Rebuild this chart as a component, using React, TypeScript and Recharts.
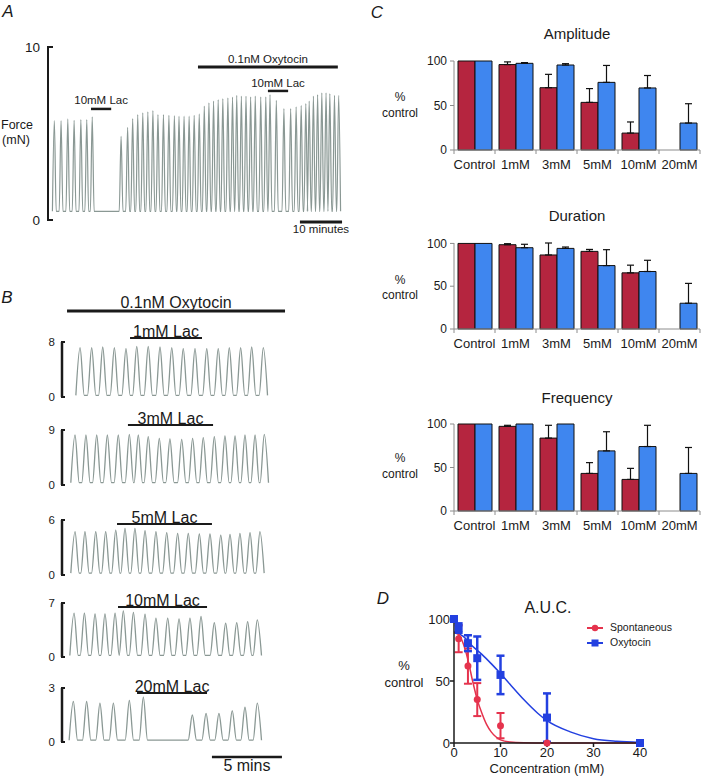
import React from "react";
import {
  LineChart,
  Line,
  XAxis,
  YAxis,
  ReferenceLine,
  BarChart,
  Bar,
  ErrorBar,
  ComposedChart,
  Scatter,
  Legend,
} from "recharts";

const FONT = "'Liberation Sans', Arial, Helvetica, sans-serif";
const INK = "#1a1a1a";
const TRACE = "#8a9894";
const AXIS_GREY = "#8c8c8c";
const RED_BAR = "#b5253f";
const BLUE_BAR = "#3f86ef";
const RED_LINE = "#e5334d";
const BLUE_LINE = "#2340e0";

// ---- A: force trace, time in minutes, force in mN ----
const aTimes = [
  1.0, 2.6, 4.2, 5.7, 7.3, 8.7, 10.0,
  16.85, 18.4, 19.6, 20.8, 22.0, 23.2, 24.4, 25.6, 26.9, 28.2, 29.5, 30.6, 31.8, 33.0, 34.2,
  35.4, 36.6, 37.7, 38.8, 39.9, 41.0, 42.2, 43.3, 44.3, 45.4, 46.5, 47.6, 48.7, 50.0, 51.2,
  52.2, 53.7, 55.5, 57.1, 58.4, 59.6, 60.7, 61.5, 62.5, 63.5, 64.5, 65.5, 66.4, 67.5, 68.5,
];
const aPeaks = [
  5.74, 5.74, 5.84, 5.76, 5.8, 5.8, 5.96,
  4.84, 5.36, 5.86, 6.09, 6.19, 6.25, 6.32, 6.09, 6.09, 6.05, 6.03, 6.0, 6.0, 6.0, 6.05,
  6.13, 6.58, 6.77, 6.87, 6.96, 7.02, 7.06, 7.1, 7.21, 7.16, 7.16, 7.12, 7.16, 7.12, 7.12,
  7.25, 6.92, 6.44, 6.44, 6.54, 6.62, 6.73, 6.87, 7.16, 7.25, 7.35, 7.35, 7.31, 7.21, 7.21,
];
const aBase = 0.5;

// ---- B: traces under oxytocin with lactate ----
const b1Times = [1.29, 2.12, 2.91, 3.74, 4.57, 5.34, 6.16, 7.0, 7.84, 8.66, 9.5, 10.34, 11.16, 11.95, 12.76, 13.55, 14.38];
const b1Peaks = [7.18, 7.18, 7.27, 7.18, 7.03, 7.37, 7.37, 7.27, 7.18, 7.03, 7.03, 7.03, 7.03, 7.18, 7.18, 7.27, 7.18];
const b2Times = [0.93, 1.71, 2.48, 3.24, 4.02, 4.81, 5.45, 6.16, 6.95, 7.71, 8.55, 9.33, 10.09, 10.88, 11.64, 12.36, 13.07, 13.79, 14.45];
const b2Peaks = [8.18, 8.18, 8.18, 8.18, 8.18, 8.29, 8.18, 7.91, 7.64, 7.53, 7.47, 7.64, 7.75, 7.91, 8.02, 8.02, 8.18, 8.18, 8.29];
const b3Times = [0.93, 1.64, 2.41, 3.12, 3.84, 4.5, 5.21, 5.93, 6.71, 7.48, 8.26, 9.02, 9.81, 10.57, 11.34, 12.0, 12.71, 13.43, 14.14];
const b3Peaks = [4.73, 4.73, 4.73, 4.73, 4.9, 5.09, 5.09, 4.84, 4.73, 4.62, 4.55, 4.55, 4.47, 4.47, 4.36, 4.44, 4.55, 4.62, 4.73];
const b4Times = [0.86, 1.6, 2.36, 3.07, 3.79, 4.38, 5.1, 5.93, 6.71, 7.55, 8.36, 9.14, 9.93, 10.88, 11.69, 12.48, 13.26, 13.95];
const b4Peaks = [5.69, 5.69, 5.6, 5.6, 5.69, 5.99, 5.78, 5.56, 5.03, 5.03, 4.94, 5.03, 5.25, 4.46, 4.38, 4.46, 4.59, 4.81];
const b5Times = [0.81, 1.76, 2.71, 3.67, 4.81, 5.81, 9.31, 10.29, 11.21, 12.16, 13.07, 13.95];
const b5Peaks = [2.25, 2.25, 2.16, 2.16, 2.31, 2.49, 1.5, 1.59, 1.59, 1.74, 1.93, 2.16];

// ---- C: % of control ----
const categories = ["Control", "1mM", "3mM", "5mM", "10mM", "20mM"];
const ampRed = [100, 96, 70, 53.5, 19, null];
const ampRedErr = [0, 3, 15, 15.5, 12.5, 0];
const ampBlue = [100, 97.4, 95.5, 76, 69.7, 30.3];
const ampBlueErr = [0, 0.8, 1.5, 19, 14, 21.7];
const durRed = [100, 98.5, 86.5, 90.7, 65.6, null];
const durRedErr = [0, 1.2, 14, 2.3, 9, 0];
const durBlue = [100, 95, 94.2, 74.1, 67.2, 30.1];
const durBlueErr = [0, 4, 1.6, 18.6, 13.1, 23.2];
const freqRed = [100, 97.3, 83.8, 43.2, 36.3, null];
const freqRedErr = [0, 1.2, 14.7, 12.4, 12.7, 0];
const freqBlue = [100, 100, 100, 69.1, 74.1, 43.2];
const freqBlueErr = [0, 0, 0, 22, 24.4, 29.8];

// ---- D: A.U.C. vs concentration ----
const spontX = [0, 1, 3, 5, 10, 20];
const spontY = [100, 84, 62, 35, 14, 0];
const spontErr = [0, 10.8, 14.2, 13.3, 10.2, 0];
const oxyX = [0, 1, 3, 5, 10, 20, 40];
const oxyY = [100, 92.7, 80.5, 68.4, 54.9, 20.5, 0];
const oxyErr = [0, 3.8, 6.4, 17.5, 15.5, 19.5, 0];
const spontFitX = [0, 1, 2, 3, 4, 5, 6, 7, 8, 9, 10, 12, 15, 20, 30, 40];
const spontFitY = [89, 87.5, 80, 67, 50, 35, 24, 15, 9, 5, 2.5, 0.8, 0.2, 0, 0, 0];
const oxyFitX = [0, 2, 4, 6, 8, 10, 12, 15, 18, 20, 25, 30, 35, 40];
const oxyFitY = [90, 86, 78, 71.5, 64, 56, 47.5, 35, 24, 18, 9, 3.5, 1.4, 0.5];

function buildTrace(times: number[], peaks: number[], base: number, half: number) {
  const pts: { t: number; v: number }[] = [];
  times.forEach((t, i) => {
    pts.push({ t: t - half, v: base });
    pts.push({ t, v: peaks[i] });
    pts.push({ t: t + half, v: base });
  });
  return pts;
}

const Txt = ({ x, y, size, children, italic }: any) => (
  <div
    style={{
      position: "absolute",
      left: x,
      top: y,
      fontSize: size,
      fontStyle: italic ? "italic" : "normal",
      transform: "translate(-50%, -50%)",
      whiteSpace: "nowrap",
      lineHeight: 1,
    }}
  >
    {children}
  </div>
);

// "[" style scale bar tick: label left of the axis, short stub to the right
const BracketTick = (props: any) => {
  const { x, y, payload, size, gap, len } = props;
  return (
    <g>
      <text x={x} y={y} dy="0.36em" textAnchor="end" fontSize={size} fill={INK}>
        {payload.value}
      </text>
      <line x1={x + gap - 1} y1={y} x2={x + gap + len} y2={y} stroke={INK} strokeWidth={2} />
    </g>
  );
};

function PanelA() {
  const data = buildTrace(aTimes, aPeaks, aBase, 0.45);
  return (
    <div style={{ position: "absolute", left: 0, top: 0 }}>
      <LineChart width={350} height={240} data={data} margin={{ top: 47, right: 5, bottom: 20, left: 0 }}>
        <XAxis type="number" dataKey="t" domain={[-0.5, 70]} hide />
        <YAxis
          type="number"
          domain={[0, 10]}
          ticks={[0, 10]}
          interval={0}
          width={48}
          tickSize={0}
          tickMargin={8}
          tickLine={false}
          axisLine={{ stroke: INK, strokeWidth: 2 }}
          tick={(p: any) => <BracketTick {...p} size={13.5} gap={8} len={5} />}
        />
        <Line dataKey="v" type="monotone" stroke={TRACE} strokeWidth={1.2} dot={false} isAnimationActive={false} />
        <ReferenceLine
          segment={[{ x: 35.1, y: 8.84 }, { x: 68.3, y: 8.84 }]}
          stroke={INK}
          strokeWidth={3}
          ifOverflow="visible"
          label={{ value: "0.1nM Oxytocin", position: "top", offset: 4, fontSize: 11.5, fill: INK }}
        />
        <ReferenceLine
          segment={[{ x: 9.7, y: 6.42 }, { x: 14.5, y: 6.42 }]}
          stroke={INK}
          strokeWidth={2.5}
          ifOverflow="visible"
          label={{ value: "10mM Lac", position: "top", offset: 5, fontSize: 11.5, fill: INK }}
        />
        <ReferenceLine
          segment={[{ x: 51.7, y: 7.46 }, { x: 56.5, y: 7.46 }]}
          stroke={INK}
          strokeWidth={2.5}
          ifOverflow="visible"
          label={{ value: "10mM Lac", position: "top", offset: 4, fontSize: 11.5, fill: INK }}
        />
        <ReferenceLine
          segment={[{ x: 59.3, y: -0.12 }, { x: 69.3, y: -0.12 }]}
          stroke={INK}
          strokeWidth={3}
          ifOverflow="visible"
          label={{ value: "10 minutes", position: "bottom", offset: 3, fontSize: 11.5, fill: INK }}
        />
      </LineChart>
      <Txt x={17} y={125} size={12.5}>Force</Txt>
      <Txt x={16} y={140} size={12.5}>(mN)</Txt>
    </div>
  );
}

const bRows = [
  { times: b1Times, peaks: b1Peaks, base: 0.24, max: 8, label: "1mM Lac", bar: [4.86, 10.0], barY: 8.58, plotTop: 342, plotH: 55, padTop: 50, padBottom: 10 },
  { times: b2Times, peaks: b2Peaks, base: 0.38, max: 9, label: "3mM Lac", bar: [4.71, 10.79], barY: 9.82, plotTop: 430, plotH: 55, padTop: 30, padBottom: 10 },
  { times: b3Times, peaks: b3Peaks, base: 0.2, max: 6, label: "5mM Lac", bar: [3.93, 10.71], barY: 5.56, plotTop: 520, plotH: 55, padTop: 30, padBottom: 10 },
  { times: b4Times, peaks: b4Peaks, base: 0.2, max: 7, label: "10mM Lac", bar: [4.0, 10.36], barY: 6.48, plotTop: 603, plotH: 54, padTop: 30, padBottom: 10 },
  { times: b5Times, peaks: b5Peaks, base: 0.1, max: 3, label: "20mM Lac", bar: [5.36, 10.36], barY: 2.72, plotTop: 688, plotH: 54, padTop: 30, padBottom: 34 },
];

function TraceRow({ row, index }: any) {
  const data = buildTrace(row.times, row.peaks, row.base, 0.3);
  return (
    <div style={{ position: "absolute", left: 0, top: row.plotTop - row.padTop }}>
      <LineChart
        width={290}
        height={row.padTop + row.plotH + row.padBottom}
        data={data}
        margin={{ top: row.padTop, right: 18, bottom: row.padBottom, left: 0 }}
      >
        <XAxis type="number" dataKey="t" domain={[0, 15]} hide />
        <YAxis
          type="number"
          domain={[0, row.max]}
          ticks={[0, row.max]}
          interval={0}
          width={62}
          tickSize={0}
          tickMargin={7}
          tickLine={false}
          axisLine={{ stroke: INK, strokeWidth: 2.5 }}
          tick={(p: any) => <BracketTick {...p} size={11.5} gap={7} len={3} />}
        />
        <Line dataKey="v" type="monotone" stroke={TRACE} strokeWidth={1.3} dot={false} isAnimationActive={false} />
        <ReferenceLine
          segment={[{ x: row.bar[0], y: row.barY }, { x: row.bar[1], y: row.barY }]}
          stroke={INK}
          strokeWidth={2}
          ifOverflow="visible"
          label={{ value: row.label, position: "top", offset: 1, fontSize: 16, fill: INK }}
        />
        {index === 0 && (
          <ReferenceLine
            segment={[{ x: 0.36, y: 12.51 }, { x: 15.93, y: 12.51 }]}
            stroke={INK}
            strokeWidth={3}
            ifOverflow="visible"
            label={{ value: "0.1nM Oxytocin", position: "top", offset: 3, fontSize: 16, fill: INK }}
          />
        )}
        {index === 4 && (
          <ReferenceLine
            segment={[{ x: 10.71, y: -0.83 }, { x: 15.71, y: -0.83 }]}
            stroke={INK}
            strokeWidth={2.5}
            ifOverflow="visible"
            label={{ value: "5 mins", position: "bottom", offset: 3, fontSize: 16, fill: INK }}
          />
        )}
      </LineChart>
    </div>
  );
}

const C_BAND = 246 / 6;

const CatTick = (props: any) => {
  const { x, y, payload, index } = props;
  const i = payload && payload.index !== undefined ? payload.index : index;
  const half = C_BAND / 2;
  return (
    <g>
      <line x1={x - half} y1={y} x2={x - half} y2={y + 4} stroke={AXIS_GREY} />
      {i === categories.length - 1 && <line x1={x + half} y1={y} x2={x + half} y2={y + 4} stroke={AXIS_GREY} />}
      <text x={x} y={y + 14} dy="0.36em" textAnchor="middle" fontSize={13} fill={INK}>
        {payload.value}
      </text>
    </g>
  );
};

function EffectPanel({ title, red, redErr, blue, blueErr, plotTop, plotH, titleY, pctY, ctrlY }: any) {
  const data = categories.map((c, i) => ({
    cat: c,
    red: red[i],
    blue: blue[i],
    redErr: redErr[i] ? [0, redErr[i]] : null,
    blueErr: blueErr[i] ? [0, blueErr[i]] : null,
  }));
  const padTop = 16;
  return (
    <>
      <Txt x={577} y={titleY} size={15}>{title}</Txt>
      <Txt x={400} y={pctY} size={12}>%</Txt>
      <Txt x={400} y={ctrlY} size={12}>control</Txt>
      <div style={{ position: "absolute", left: 350, top: plotTop - padTop }}>
        <BarChart
          width={355}
          height={padTop + plotH + 35}
          data={data}
          barSize={17}
          barGap={0}
          margin={{ top: padTop, right: 5, bottom: 5, left: 60 }}
        >
          <XAxis
            dataKey="cat"
            interval={0}
            height={30}
            tickSize={0}
            tickMargin={0}
            tickLine={false}
            axisLine={{ stroke: AXIS_GREY }}
            tick={(p: any) => <CatTick {...p} />}
          />
          <YAxis
            type="number"
            domain={[0, 100]}
            ticks={[0, 50, 100]}
            width={44}
            tickSize={4}
            tickMargin={3}
            axisLine={{ stroke: AXIS_GREY }}
            tickLine={{ stroke: AXIS_GREY }}
            tick={{ fill: INK, fontSize: 12 }}
          />
          <Bar dataKey="red" fill={RED_BAR} stroke="#111" strokeWidth={1} isAnimationActive={false}>
            <ErrorBar dataKey="redErr" direction="y" width={3.5} stroke="#111" strokeWidth={1.2} />
          </Bar>
          <Bar dataKey="blue" fill={BLUE_BAR} stroke="#111" strokeWidth={1} isAnimationActive={false}>
            <ErrorBar dataKey="blueErr" direction="y" width={3.5} stroke="#111" strokeWidth={1.2} />
          </Bar>
        </BarChart>
      </div>
    </>
  );
}

const AucLegend = () => (
  <div style={{ fontSize: 10.5, color: INK, lineHeight: "15px" }}>
    <div style={{ display: "flex", alignItems: "center", height: 15 }}>
      <svg width={20} height={10} style={{ marginRight: 4 }}>
        <line x1={1} y1={5} x2={17} y2={5} stroke={RED_LINE} strokeWidth={2} />
        <circle cx={9} cy={5} r={3.2} fill={RED_LINE} />
      </svg>
      Spontaneous
    </div>
    <div style={{ display: "flex", alignItems: "center", height: 15 }}>
      <svg width={20} height={10} style={{ marginRight: 4 }}>
        <line x1={1} y1={5} x2={17} y2={5} stroke={BLUE_LINE} strokeWidth={2} />
        <rect x={5.5} y={1.5} width={7} height={7} fill={BLUE_LINE} />
      </svg>
      Oxytocin
    </div>
  </div>
);

function PanelD() {
  const spont = spontX.map((x, i) => ({ x, y: spontY[i], err: spontErr[i] }));
  const oxy = oxyX.map((x, i) => ({ x, y: oxyY[i], err: oxyErr[i] }));
  const spontFit = spontFitX.map((x, i) => ({ x, y: spontFitY[i] }));
  const oxyFit = oxyFitX.map((x, i) => ({ x, y: oxyFitY[i] }));
  return (
    <>
      <Txt x={548} y={608} size={16}>A.U.C.</Txt>
      <Txt x={404} y={665} size={13}>%</Txt>
      <Txt x={404} y={682} size={13}>control</Txt>
      <div style={{ position: "absolute", left: 350, top: 590 }}>
        <ComposedChart width={355} height={188} margin={{ top: 29, right: 65, bottom: 0, left: 60 }}>
          <XAxis
            type="number"
            dataKey="x"
            domain={[0, 40]}
            ticks={[0, 10, 20, 30, 40]}
            height={35}
            tickSize={4}
            tickMargin={1}
            axisLine={{ stroke: INK, strokeWidth: 1.5 }}
            tickLine={{ stroke: INK, strokeWidth: 1.5 }}
            tick={{ fill: INK, fontSize: 13 }}
            label={{ value: "Concentration (mM)", position: "insideBottom", offset: 5, fontSize: 13, fill: INK }}
          />
          <YAxis
            type="number"
            dataKey="y"
            domain={[0, 100]}
            ticks={[0, 50, 100]}
            width={44}
            tickSize={4}
            tickMargin={0}
            axisLine={{ stroke: INK, strokeWidth: 1.5 }}
            tickLine={{ stroke: INK, strokeWidth: 1.5 }}
            tick={{ fill: INK, fontSize: 13 }}
          />
          <Line data={oxyFit} dataKey="y" type="monotone" stroke={BLUE_LINE} strokeWidth={1.5} dot={false} isAnimationActive={false} />
          <Line data={spontFit} dataKey="y" type="monotone" stroke={RED_LINE} strokeWidth={1.5} dot={false} isAnimationActive={false} />
          <Scatter
            data={spont}
            fill={RED_LINE}
            isAnimationActive={false}
            shape={(p: any) => <circle cx={p.cx} cy={p.cy} r={3.5} fill={RED_LINE} />}
          >
            <ErrorBar dataKey="err" direction="y" width={4} stroke={RED_LINE} strokeWidth={2} />
          </Scatter>
          <Scatter
            data={oxy}
            fill={BLUE_LINE}
            isAnimationActive={false}
            shape={(p: any) => <rect x={p.cx - 4} y={p.cy - 4} width={8} height={8} fill={BLUE_LINE} />}
          >
            <ErrorBar dataKey="err" direction="y" width={4} stroke={BLUE_LINE} strokeWidth={2.5} />
          </Scatter>
          <Legend
            layout="vertical"
            align="center"
            verticalAlign="middle"
            wrapperStyle={{ left: 236, top: 30, width: 110 }}
            content={() => <AucLegend />}
          />
        </ComposedChart>
      </div>
    </>
  );
}

export default function App() {
  return (
    <div
      style={{
        position: "absolute",
        left: 0,
        top: 0,
        width: 705,
        height: 778,
        background: "#fff",
        fontFamily: FONT,
        color: INK,
        overflow: "hidden",
      }}
    >
      <Txt x={8} y={11} size={17} italic>A</Txt>
      <Txt x={7} y={297} size={17} italic>B</Txt>
      <Txt x={377} y={12} size={17} italic>C</Txt>
      <Txt x={383} y={598} size={17} italic>D</Txt>
      <PanelA />
      {bRows.map((row, i) => (
        <TraceRow key={row.label} row={row} index={i} />
      ))}
      <EffectPanel
        title="Amplitude"
        red={ampRed}
        redErr={ampRedErr}
        blue={ampBlue}
        blueErr={ampBlueErr}
        plotTop={61}
        plotH={89}
        titleY={33}
        pctY={97}
        ctrlY={113}
      />
      <EffectPanel
        title="Duration"
        red={durRed}
        redErr={durRedErr}
        blue={durBlue}
        blueErr={durBlueErr}
        plotTop={243}
        plotH={86}
        titleY={215}
        pctY={280}
        ctrlY={295}
      />
      <EffectPanel
        title="Frequency"
        red={freqRed}
        redErr={freqRedErr}
        blue={freqBlue}
        blueErr={freqBlueErr}
        plotTop={424}
        plotH={87}
        titleY={397}
        pctY={458}
        ctrlY={474}
      />
      <PanelD />
    </div>
  );
}
